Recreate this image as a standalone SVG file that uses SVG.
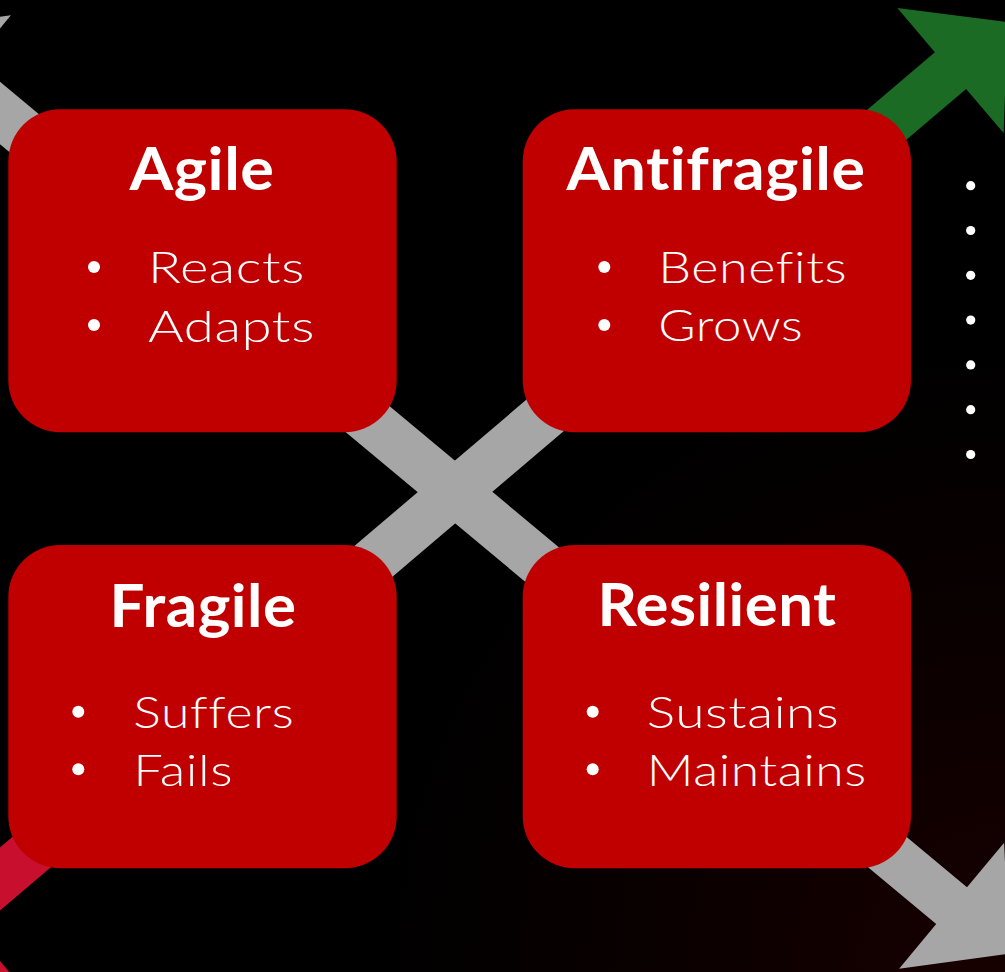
<svg xmlns="http://www.w3.org/2000/svg" width="1005" height="972" viewBox="0 0 1005 972">
  <defs>
    <radialGradient id="bg" gradientUnits="userSpaceOnUse" cx="1005" cy="972" r="640">
      <stop offset="0" stop-color="#180000"/>
      <stop offset="0.55" stop-color="#0a0000"/>
      <stop offset="1" stop-color="#000000"/>
    </radialGradient>
    <linearGradient id="rg" gradientUnits="userSpaceOnUse" x1="-97.7" y1="962" x2="1007.7" y2="22">
      <stop offset="0" stop-color="#C8102E"/>
      <stop offset="0.3" stop-color="#C8102E"/>
      <stop offset="0.3" stop-color="#A6A6A6"/>
      <stop offset="0.7" stop-color="#A6A6A6"/>
      <stop offset="0.7" stop-color="#1B6B25"/>
      <stop offset="1" stop-color="#1B6B25"/>
    </linearGradient>
    <style>
      .box { fill: #C00000; }
      .title { font-family: "Lato", "Liberation Sans", sans-serif; font-weight: 700; font-size: 60px; fill: #FFFFFF; text-anchor: middle; font-variant-ligatures: none; font-feature-settings: "liga" 0; letter-spacing: 0.5px; }
      .item { font-family: "Lato", "Liberation Sans", sans-serif; font-weight: 300; font-size: 44px; fill: #FFFFFF; font-variant-ligatures: none; font-feature-settings: "liga" 0; letter-spacing: 0.5px; }
      .bullet { fill: #FFFFFF; }
      .dot { fill: #FFFFFF; }
    </style>
  </defs>

  <rect x="0" y="0" width="1005" height="972" fill="#000000"/>
  <rect x="0" y="0" width="1005" height="972" fill="url(#bg)"/>

  <g id="connectors">
    <polygon id="arrow-gray" fill="#A6A6A6" points="1009.2,953.7 1004.1,842.7 967.0,887.3 -26.2,59.9 10.9,15.3 -99.2,30.3 -94.1,141.3 -57.0,96.7 936.2,924.1 899.1,968.7"/>
    <polygon id="arrow-red-green" fill="url(#rg)" points="1007.7,22.0 897.4,8.1 934.9,52.3 -56.1,895.1 -93.6,850.9 -97.7,962.0 12.6,975.9 -24.9,931.7 966.1,88.9 1003.6,133.1"/>
  </g>

  <g id="node-agile">
    <rect class="box" x="8.3" y="109.3" width="388.4" height="323" rx="52" ry="52"/>
    <text class="title" x="202" y="190" textLength="145" lengthAdjust="spacingAndGlyphs">Agile</text>
    <circle class="bullet" cx="94" cy="267" r="6"/>
    <text class="item" x="148" y="283.3" textLength="157" lengthAdjust="spacingAndGlyphs">Reacts</text>
    <circle class="bullet" cx="94" cy="325" r="6"/>
    <text class="item" x="148" y="341.7" textLength="167" lengthAdjust="spacingAndGlyphs">Adapts</text>
  </g>

  <g id="node-antifragile">
    <rect class="box" x="522.7" y="109.3" width="388.3" height="323" rx="52" ry="52"/>
    <text class="title" x="716" y="190" textLength="299" lengthAdjust="spacingAndGlyphs">Antifragile</text>
    <circle class="bullet" cx="604.3" cy="267" r="6"/>
    <text class="item" x="658.3" y="283.3" textLength="189" lengthAdjust="spacingAndGlyphs">Benefits</text>
    <circle class="bullet" cx="604.3" cy="325" r="6"/>
    <text class="item" x="658.3" y="340.7" textLength="145" lengthAdjust="spacingAndGlyphs">Grows</text>
  </g>

  <g id="node-fragile">
    <rect class="box" x="8.3" y="545" width="388.4" height="323.3" rx="52" ry="52"/>
    <text class="title" x="203" y="626.7" textLength="187" lengthAdjust="spacingAndGlyphs">Fragile</text>
    <circle class="bullet" cx="78.3" cy="711.7" r="6"/>
    <text class="item" x="133.3" y="728.3" textLength="161" lengthAdjust="spacingAndGlyphs">Suffers</text>
    <circle class="bullet" cx="78.3" cy="769.3" r="6"/>
    <text class="item" x="133.3" y="786" textLength="100" lengthAdjust="spacingAndGlyphs">Fails</text>
  </g>

  <g id="node-resilient">
    <rect class="box" x="522.7" y="545" width="388.3" height="323.3" rx="52" ry="52"/>
    <text class="title" x="717" y="625.7" textLength="239" lengthAdjust="spacingAndGlyphs">Resilient</text>
    <circle class="bullet" cx="592.7" cy="711.7" r="6"/>
    <text class="item" x="646.7" y="728.3" textLength="192.6" lengthAdjust="spacingAndGlyphs">Sustains</text>
    <circle class="bullet" cx="592.7" cy="769.3" r="6"/>
    <text class="item" x="646.7" y="786" textLength="220" lengthAdjust="spacingAndGlyphs">Maintains</text>
  </g>

  <g id="side-bullets">
    <circle class="dot" cx="970.7" cy="185.7" r="4.6"/>
    <circle class="dot" cx="970.7" cy="230.5" r="4.6"/>
    <circle class="dot" cx="970.7" cy="275.3" r="4.6"/>
    <circle class="dot" cx="970.7" cy="320.1" r="4.6"/>
    <circle class="dot" cx="970.7" cy="364.9" r="4.6"/>
    <circle class="dot" cx="970.7" cy="409.7" r="4.6"/>
    <circle class="dot" cx="970.7" cy="454.5" r="4.6"/>
  </g>
</svg>
